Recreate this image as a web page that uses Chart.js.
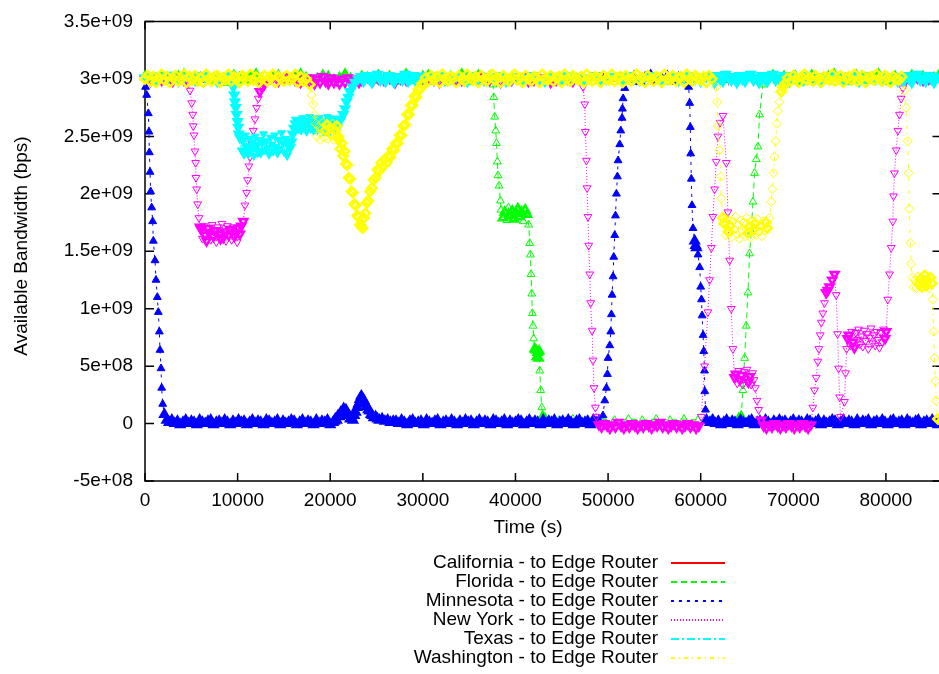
<!DOCTYPE html>
<html>
<head>
<meta charset="utf-8">
<title>Available Bandwidth</title>
<script src="https://cdn.jsdelivr.net/npm/chart.js@4.4.1/dist/chart.umd.min.js"></script>
<style>
    html, body { margin: 0; padding: 0; background: #fff; overflow: hidden; }
    #wrap { width: 939px; height: 674px; overflow: hidden; }
</style>
</head>
<body>
<div id="wrap"><canvas id="bandwidthChart" width="947" height="674"></canvas></div>
<script>
// Tick values and labels
const xTickValues = [0, 10000, 20000, 30000, 40000, 50000, 60000, 70000, 80000];
const yTickValues = [-5e8, 0, 5e8, 1e9, 1.5e9, 2e9, 2.5e9, 3e9, 3.5e9];
const yTickLabels = ['-5e+08', '0', '5e+08', '1e+09', '1.5e+09', '2e+09', '2.5e+09', '3e+09', '3.5e+09'];

const seriesNames = [
    'California - to Edge Router',
    'Florida - to Edge Router',
    'Minnesota - to Edge Router',
    'New York - to Edge Router',
    'Texas - to Edge Router',
    'Washington - to Edge Router'
];

// [time (s), bandwidth in 1e9 bps]
const californiaData = [
    [0,3.01],[900,2.98],[1800,3.02],[2700,3.00],[3600,2.97],[4500,3.03],[5400,3.01],[6300,2.99],[7200,3.02],[8100,2.98],
    [9000,3.00],[9900,3.03],[10800,2.99],[11700,3.01],[12600,2.97],[13500,3.02],[14400,3.00],[15300,2.98],[16200,3.03],[17100,3.01],
    [18000,2.99],[18900,3.02],[19800,2.97],[20700,3.00],[21600,3.03],[22500,2.98],[23400,3.01],[24300,3.02],[25200,2.99],[26100,3.00],
    [27000,3.03],[27900,2.98],[28800,3.01],[29700,2.97],[30600,3.02],[31500,3.00],[32400,2.99],[33300,3.03],[34200,3.01],[35100,2.98],
    [36000,3.02],[36900,3.00],[37800,2.97],[38700,3.01],[39600,3.03],[40500,2.99],[41400,3.02],[42300,2.98],[43200,3.00],[44100,3.03],
    [45000,3.01],[45900,2.97],[46800,3.02],[47700,2.99],[48600,3.01],[49500,3.03],[50400,2.98],[51300,3.00],[52200,3.02],[53100,2.97],
    [54000,3.01],[54900,3.03],[55800,2.99],[56700,3.00],[57600,3.02],[58500,2.98],[59400,3.01],[60300,3.03],[61200,2.99],[62100,3.02],
    [63000,2.97],[63900,3.00],[64800,3.03],[65700,3.01],[66600,2.98],[67500,3.02],[68400,3.00],[69300,2.99],[70200,3.03],[71100,3.01],
    [72000,2.97],[72900,3.02],[73800,3.00],[74700,2.98],[75600,3.03],[76500,3.01],[77400,2.99],[78300,3.02],[79200,3.00],[80100,2.97],
    [81000,3.01],[81900,3.03],[82800,2.99],[83700,3.02],[84600,2.98],[85500,3.00],[86400,3.01]
];

const floridaData = [
    [0,3.02],[600,3.00],[1200,2.98],[1800,3.03],[2400,3.01],[3000,2.99],[3600,3.02],[4200,3.04],[4800,3.00],[5400,2.98],
    [6000,3.01],[6600,3.03],[7200,2.99],[7800,3.02],[8400,3.00],[9000,2.97],[9600,3.03],[10200,3.01],[10800,2.99],[11400,3.02],
    [12000,3.04],[12600,3.00],[13200,2.98],[13800,3.01],[14400,3.03],[15000,3.00],[15600,2.99],[16200,3.02],[16800,3.04],[17400,3.01],
    [18000,2.98],[18600,3.00],[19200,3.03],[19800,3.02],[20400,2.99],[21000,3.01],[21600,3.04],[22200,3.00],[22800,2.98],[23400,3.02],
    [24000,3.01],[24600,2.99],[25200,3.03],[25800,3.00],[26400,3.02],[27000,2.98],[27600,3.01],[28200,3.04],[28800,2.99],[29400,3.00],
    [30000,3.02],[30600,3.03],[31200,2.98],[31800,3.01],[32400,3.00],[33000,3.02],[33600,2.99],[34200,3.04],[34800,3.01],[35400,2.98],
    [36000,3.03],[36600,3.00],[37200,3.02],
    [37580,2.95],[37660,2.84],[37760,2.67],[37870,2.55],[37950,2.44],[38050,2.28],[38120,2.16],[38230,2.07],[38380,1.94],
    [38450,1.86],[38650,1.79],[38850,1.84],[39050,1.77],[39250,1.88],[39450,1.81],[39650,1.85],[39850,1.78],[40050,1.83],[40250,1.87],
    [40450,1.80],[40650,1.84],[40850,1.76],[41050,1.86],[41250,1.82],
    [41430,1.73],[41540,1.57],[41610,1.47],[41680,1.30],[41760,1.13],[41830,0.96],[41900,0.85],[41970,0.74],[42080,0.65],
    [42200,0.64],[42300,0.58],[42400,0.62],[42500,0.57],[42560,0.63],
    [42620,0.46],[42730,0.29],[42840,0.14],[42940,0.06],
    [43200,0.04],[44700,0.03],[46200,0.04],[47700,0.03],[49200,0.04],[50700,0.03],[52200,0.04],[53700,0.03],[55200,0.04],[56700,0.03],
    [58200,0.04],[59700,0.03],[61200,0.04],[62700,0.03],[64100,0.04],
    [64380,0.06],[64560,0.29],[64740,0.57],[64920,0.85],[65100,1.14],[65280,1.48],[65460,1.67],[65640,1.93],[65820,2.18],[66000,2.30],
    [66180,2.41],[66360,2.69],[66710,2.95],
    [67200,3.01],[67800,3.03],[68400,2.99],[69000,3.02],[69600,3.00],[70200,3.04],[70800,2.98],[71400,3.01],[72000,3.03],[72600,3.00],
    [73200,2.99],[73800,3.02],[74400,3.04],[75000,3.01],[75600,2.98],[76200,3.00],[76800,3.03],[77400,3.02],[78000,2.99],[78600,3.01],
    [79200,3.04],[79800,3.00],[80400,2.98],[81000,3.02],[81600,3.01],[82200,2.99],[82800,3.03],[83400,3.00],[84000,3.02],[84600,2.98],
    [85200,3.01],[85800,3.04],[86400,3.00]
];

const minnesotaData = [
    [60,2.93],[180,2.86],[360,2.70],[430,2.54],[470,2.36],[540,2.19],[610,2.02],[720,1.88],[830,1.76],[900,1.59],
    [1080,1.42],[1190,1.25],[1330,1.10],[1440,0.97],[1550,0.80],[1620,0.64],[1730,0.48],[1800,0.31],[1910,0.17],[2090,0.08],[2340,0.03],
    [2600,0.01],[2900,0.03],[3200,0.00],[3500,0.02],[3800,-0.01],[4100,0.01],[4400,0.03],[4700,0.00],[5000,0.02],[5300,0.01],
    [5600,-0.01],[5900,0.03],[6200,0.01],[6500,0.00],[6800,0.02],[7100,0.03],[7400,-0.01],[7700,0.01],[8000,0.02],[8300,0.00],
    [8600,0.03],[8900,0.01],[9200,-0.01],[9500,0.02],[9800,0.00],[10100,0.03],[10400,0.01],[10700,0.02],[11000,-0.01],[11300,0.01],
    [11600,0.03],[11900,0.00],[12200,0.02],[12500,0.01],[12800,-0.01],[13100,0.03],[13400,0.02],[13700,0.00],[14000,0.01],[14300,0.03],
    [14600,-0.01],[14900,0.02],[15200,0.00],[15500,0.01],[15800,0.03],[16100,0.02],[16400,-0.01],[16700,0.01],[17000,0.03],[17300,0.00],
    [17600,0.02],[17900,0.01],[18200,-0.01],[18500,0.03],[18800,0.00],[19100,0.02],[19400,0.01],[19700,0.03],[20000,-0.01],[20300,0.01],
    [20450,0.02],[20550,0.04],[20700,0.03],[20850,0.07],[21000,0.06],[21150,0.10],[21300,0.09],[21450,0.13],[21550,0.11],[21700,0.12],
    [21850,0.08],[22000,0.07],[22150,0.04],[22300,0.05],[22450,0.03],[22600,0.07],[22750,0.10],[22900,0.14],[23050,0.17],[23200,0.21],
    [23350,0.24],[23500,0.22],[23650,0.20],[23800,0.17],[23950,0.15],[24100,0.12],[24250,0.11],[24400,0.08],[24550,0.07],[24700,0.05],
    [24900,0.06],[25100,0.04],[25300,0.03],[25600,0.04],[25900,0.02],[26200,0.03],[26500,0.01],[26800,0.02],
    [27100,0.02],[27400,0.00],[27700,0.03],[28000,0.01],[28300,-0.01],[28600,0.02],[28900,0.03],[29200,0.00],[29500,0.01],[29800,0.02],
    [30100,-0.01],[30400,0.03],[30700,0.01],[31000,0.00],[31300,0.02],[31600,0.03],[31900,-0.01],[32200,0.01],[32500,0.02],[32800,0.00],
    [33100,0.03],[33400,0.01],[33700,-0.01],[34000,0.02],[34300,0.00],[34600,0.03],[34900,0.01],[35200,0.02],[35500,-0.01],[35800,0.01],
    [36100,0.03],[36400,0.00],[36700,0.02],[37000,0.01],[37300,-0.01],[37600,0.03],[37900,0.02],[38200,0.00],[38500,0.01],[38800,0.03],
    [39100,-0.01],[39400,0.02],[39700,0.00],[40000,0.01],[40300,0.03],[40600,0.02],[40900,-0.01],[41200,0.01],[41500,0.03],[41800,0.00],
    [42100,0.02],[42400,0.01],[42700,-0.01],[43000,0.03],[43300,0.00],[43600,0.02],[43900,0.01],[44200,0.03],[44500,-0.01],[44800,0.01],
    [45100,0.02],[45400,0.00],[45700,0.03],[46000,0.01],[46300,-0.01],[46600,0.02],[46900,0.03],[47200,0.00],[47500,0.01],[47800,0.02],
    [48100,-0.01],[48400,0.03],[48700,0.01],[49000,0.02],
    [49450,0.07],[49640,0.20],[49820,0.31],[49930,0.43],[50000,0.57],[50180,0.68],[50290,0.80],[50360,0.95],[50430,1.12],[50540,1.28],
    [50610,1.45],[50720,1.64],[50800,1.81],[50900,2.00],[51010,2.15],[51080,2.29],[51260,2.43],[51370,2.55],[51510,2.66],[51550,2.74],
    [51620,2.83],[51800,2.92],
    [52200,3.00],[52800,3.02],[53400,2.98],[54000,3.01],[54600,3.03],[55200,2.99],[55800,3.00],[56400,3.02],[57000,2.98],[57600,3.01],[58200,3.00],
    [58700,2.93],[58810,2.79],[58880,2.58],[58920,2.35],[58990,2.13],[59060,1.90],[59170,1.70],[59350,1.59],[59450,1.55],[59540,1.53],
    [59710,1.47],[59890,1.36],[60000,1.19],[60080,1.08],[60150,0.94],[60260,0.77],[60330,0.63],[60410,0.46],[60440,0.28],[60520,0.12],[60630,0.03],
    [61000,0.01],[61300,0.03],[61600,0.00],[61900,0.02],[62200,-0.01],[62500,0.01],[62800,0.03],[63100,0.00],[63400,0.02],[63700,0.01],
    [64000,-0.01],[64300,0.03],[64600,0.01],[64900,0.00],[65200,0.02],[65500,0.03],[65800,-0.01],[66100,0.01],[66400,0.02],[66700,0.00],
    [67000,0.03],[67300,0.01],[67600,-0.01],[67900,0.02],[68200,0.00],[68500,0.03],[68800,0.01],[69100,0.02],[69400,-0.01],[69700,0.01],
    [70000,0.03],[70300,0.00],[70600,0.02],[70900,0.01],[71200,-0.01],[71500,0.03],[71800,0.02],[72100,0.00],[72400,0.01],[72700,0.03],
    [73000,-0.01],[73300,0.02],[73600,0.00],[73900,0.01],[74200,0.03],[74500,0.02],[74800,-0.01],[75100,0.01],[75400,0.03],[75700,0.00],
    [76000,0.02],[76300,0.01],[76600,-0.01],[76900,0.03],[77200,0.00],[77500,0.02],[77800,0.01],[78100,0.03],[78400,-0.01],[78700,0.01],
    [79000,0.02],[79300,0.00],[79600,0.03],[79900,0.01],[80200,-0.01],[80500,0.02],[80800,0.03],[81100,0.00],[81400,0.01],[81700,0.02],
    [82000,-0.01],[82300,0.03],[82600,0.01],[82900,0.00],[83200,0.02],[83500,0.03],[83800,-0.01],[84100,0.01],[84400,0.02],[84700,0.00],
    [85000,0.03],[85300,0.01],[85600,-0.01],[85900,0.02],[86200,0.01]
];

const newYorkData = [
    [0,3.00],[600,2.98],[1200,3.01],[1800,2.99],[2400,3.02],[3000,2.98],[3600,3.00],[4200,2.99],[4600,2.97],
    [4860,2.90],[5040,2.79],[5150,2.69],[5210,2.59],[5290,2.51],[5400,2.37],[5470,2.27],[5500,2.14],[5580,2.04],[5690,1.91],[5830,1.79],[5940,1.71],
    [6050,1.69],[6200,1.61],[6350,1.72],[6500,1.64],[6650,1.59],[6800,1.70],[6950,1.66],[7100,1.60],[7250,1.73],[7400,1.63],
    [7550,1.68],[7700,1.58],[7850,1.71],[8000,1.65],[8150,1.61],[8300,1.74],[8450,1.62],[8600,1.67],[8750,1.59],[8900,1.72],
    [9050,1.64],[9200,1.69],[9350,1.60],[9500,1.71],[9650,1.63],[9800,1.66],[9950,1.58],[10100,1.70],[10250,1.65],[10400,1.72],
    [10610,1.76],[10790,1.90],[10970,2.01],[11080,2.12],[11220,2.24],[11330,2.32],[11510,2.44],[11690,2.55],[11870,2.65],[12050,2.75],
    [12230,2.83],[12410,2.89],[12590,2.93],[12870,2.95],
    [13200,2.99],[13800,3.01],[14400,2.98],[15000,3.00],[15600,3.02],[16200,2.99],[16800,2.97],[17400,3.01],
    [17700,2.98],[18000,3.01],[18300,2.96],[18600,3.00],[18900,2.97],[19200,3.02],[19500,2.98],[19800,2.96],[20100,3.01],[20400,2.97],
    [20700,2.99],[21000,2.96],[21300,3.00],[21600,2.97],[21900,3.01],[22200,2.98],[22500,2.96],[22800,3.00],[23100,2.97],
    [23400,2.99],[24000,3.02],[24600,2.98],[25200,3.00],[25800,2.99],[26400,3.01],[27000,2.97],[27600,3.00],[28200,2.99],[28800,3.02],
    [29400,2.98],[30000,3.00],[30600,3.01],[31200,2.99],[31800,2.97],[32400,3.00],[33000,3.02],[33600,2.98],[34200,2.99],[34800,3.01],
    [35400,3.00],[36000,2.98],[36600,3.02],[37200,2.99],[37800,3.00],[38400,2.97],[39000,3.01],[39600,2.99],[40200,3.00],[40800,3.02],
    [41400,2.98],[42000,2.99],[42600,3.01],[43200,3.00],[43800,2.97],[44400,2.99],[45000,3.02],[45600,3.00],[46200,2.98],[46800,3.00],
    [47300,2.93],[47480,2.78],[47550,2.54],[47660,2.29],[47730,2.05],[47830,1.80],[47910,1.55],[48020,1.30],[48120,1.05],[48270,0.81],
    [48370,0.55],[48480,0.31],[48630,0.14],[48740,0.06],
    [49000,-0.01],[49300,-0.03],[49600,0.00],[49900,-0.02],[50200,-0.04],[50500,-0.01],[50800,-0.03],[51100,0.01],[51400,-0.02],[51700,-0.04],
    [52000,-0.01],[52300,-0.03],[52600,0.00],[52900,-0.02],[53200,-0.04],[53500,-0.01],[53800,-0.03],[54100,0.00],[54400,-0.02],[54700,-0.04],
    [55000,-0.01],[55300,-0.02],[55600,0.01],[55900,-0.03],[56200,-0.01],[56500,-0.04],[56800,-0.02],[57100,0.00],[57400,-0.03],[57700,-0.01],
    [58000,-0.04],[58300,-0.02],[58600,0.00],[58900,-0.03],[59200,-0.01],[59500,-0.04],[59800,-0.02],
    [60070,0.06],[60420,0.50],[60780,0.97],[60960,1.25],[61150,1.53],[61320,1.80],[61500,2.04],[61680,2.28],[61860,2.50],[62100,2.62],[62400,2.68],
    [62770,2.27],[62940,1.84],[63120,1.42],[63300,1.00],[63480,0.65],[63660,0.40],
    [63800,0.43],[63950,0.35],[64100,0.46],[64250,0.38],[64400,0.42],[64550,0.34],[64700,0.45],[64850,0.39],[65000,0.47],[65150,0.36],
    [65300,0.41],[65450,0.34],[65600,0.44],[65750,0.38],
    [65900,0.31],[66080,0.20],[66260,0.12],[66540,0.03],
    [66800,-0.02],[67100,-0.04],[67400,-0.01],[67700,-0.03],[68000,0.00],[68300,-0.02],[68600,-0.04],[68900,-0.01],[69200,-0.03],[69500,0.00],
    [69800,-0.02],[70100,-0.04],[70400,-0.01],[70700,-0.03],[71000,0.00],[71300,-0.02],[71600,-0.04],[71900,-0.01],
    [72110,0.14],[72290,0.29],[72470,0.40],[72650,0.54],[72760,0.65],[72910,0.77],[73020,0.88],[73190,0.96],[73370,1.05],[73550,1.14],
    [73730,1.16],[73910,1.19],[74200,1.25],[74450,1.30],
    [74630,1.12],[74780,0.78],[74890,0.48],[75000,0.23],[75100,0.06],
    [75530,0.19],[75640,0.44],[75750,0.65],[75860,0.74],
    [76000,0.77],[76150,0.68],[76300,0.80],[76450,0.71],[76600,0.66],[76750,0.79],[76900,0.73],[77050,0.82],[77200,0.69],[77350,0.76],
    [77500,0.67],[77650,0.81],[77800,0.72],[77950,0.78],[78100,0.65],[78250,0.75],[78400,0.83],[78550,0.70],[78700,0.77],[78850,0.68],
    [79000,0.80],[79150,0.73],[79300,0.66],[79450,0.79],[79600,0.71],[79750,0.82],[79900,0.74],
    [80030,0.80],[80200,1.08],[80390,1.30],[80570,1.53],[80740,1.76],[80820,1.98],[80920,2.18],[81110,2.38],[81290,2.55],[81460,2.69],
    [81650,2.83],[81820,2.92],
    [82200,3.00],[82800,2.98],[83400,3.01],[84000,2.99],[84600,3.00],[85200,2.98],[85800,3.01],[86400,2.99]
];

const texasData = [
    [0,3.01],[600,3.03],[1200,2.99],[1800,3.02],[2400,3.00],[3000,3.04],[3600,2.98],[4200,3.01],[4800,3.02],[5400,2.99],
    [6000,3.03],[6600,3.00],[7200,3.02],[7800,2.98],[8400,3.01],[9000,3.03],
    [9400,2.97],[9530,2.93],[9640,2.86],[9710,2.80],[9790,2.75],[9890,2.69],[10000,2.63],[10070,2.58],[10140,2.52],
    [10250,2.49],[10400,2.38],[10550,2.46],[10700,2.34],[10850,2.51],[11000,2.41],[11150,2.36],[11300,2.48],[11450,2.39],[11600,2.45],
    [11750,2.33],[11900,2.50],[12050,2.42],[12200,2.37],[12350,2.47],[12500,2.35],[12650,2.44],[12800,2.52],[12950,2.38],[13100,2.46],
    [13250,2.40],[13400,2.34],[13550,2.49],[13700,2.43],[13850,2.37],[14000,2.51],[14150,2.41],[14300,2.35],[14450,2.47],[14600,2.39],
    [14750,2.53],[14900,2.44],[15050,2.36],[15200,2.48],[15350,2.33],[15500,2.45],[15650,2.40],
    [15800,2.45],[15950,2.52],[16100,2.57],[16250,2.61],
    [16400,2.64],[16550,2.56],[16700,2.62],[16850,2.55],[17000,2.66],[17150,2.59],[17300,2.63],[17450,2.54],[17600,2.61],[17750,2.67],
    [17900,2.58],[18050,2.63],[18200,2.55],[18350,2.65],[18500,2.60],[18650,2.57],[18800,2.66],[18950,2.59],[19100,2.62],[19250,2.54],
    [19400,2.64],[19550,2.58],[19700,2.67],[19850,2.60],[20000,2.56],[20150,2.63],[20300,2.59],[20450,2.65],[20600,2.61],[20750,2.57],[20900,2.64],
    [21100,2.64],[21400,2.69],[21600,2.74],[21760,2.80],[21950,2.84],[22120,2.89],[22400,2.93],[22660,2.97],[23010,3.00],
    [23300,3.02],[23600,2.98],[23900,3.03],[24200,3.00],[24500,2.97],[24800,3.02],[25100,3.04],[25400,2.99],[25700,3.01],[26000,2.98],
    [26300,3.03],[26600,3.00],[26900,2.97],[27200,3.02],[27500,3.01],[27800,2.99],[28100,3.04],[28400,2.98],[28700,3.00],[29000,3.03],
    [29300,2.97],[29600,3.01],[29900,3.02],[30200,2.99],[30500,3.03],
    [31200,3.01],[31800,3.03],[32400,2.99],[33000,3.00],[33600,3.02],[34200,3.01],[34800,2.98],[35400,3.03],[36000,3.00],[36600,2.99],
    [37200,3.02],[37800,3.01],[38400,3.03],[39000,2.98],[39600,3.00],[40200,3.02],[40800,2.99],[41400,3.01],[42000,3.03],[42600,3.00],
    [43200,2.98],[43800,3.02],[44400,3.01],[45000,2.99],[45600,3.03],[46200,3.00],[46800,3.02],[47400,2.98],[48000,3.01],[48600,3.03],
    [49200,2.99],[49800,3.00],[50400,3.02],[51000,3.01],[51600,2.98],[52200,3.03],[52800,3.00],[53400,2.99],[54000,3.02],[54600,3.01],
    [55200,3.03],[55800,2.98],[56400,3.00],[57000,3.02],[57600,2.99],[58200,3.01],[58800,3.03],[59400,3.00],[60000,2.98],[60600,3.02],
    [61200,3.01],[61500,2.97],[61800,3.03],[62100,3.00],[62400,2.98],[62700,3.04],[63000,3.01],[63300,2.99],[63600,3.02],[63900,2.97],
    [64200,3.03],[64500,3.00],[64800,2.98],[65100,3.02],[65400,3.04],[65700,2.99],[66000,3.01],[66300,2.97],[66600,3.03],[66900,3.00],
    [67200,2.98],[67500,3.02],[67800,3.04],[68100,2.99],[68400,3.01],[68700,2.97],[69000,3.03],[69300,3.00],[69600,2.98],[69900,3.02],
    [70500,3.01],[71100,2.99],[71700,3.03],[72300,3.00],[72900,2.98],[73500,3.02],[74100,3.01],[74700,3.03],[75300,2.99],[75900,3.00],
    [76500,3.02],[77100,2.98],[77700,3.01],[78300,3.03],[78900,3.00],[79500,2.99],[80100,3.02],[80700,3.01],[81300,2.98],
    [81600,3.02],[81900,2.98],[82200,3.03],[82500,3.00],[82800,2.97],[83100,3.02],[83400,3.04],[83700,2.99],[84000,3.01],[84300,2.98],
    [84600,3.03],[84900,3.00],[85200,2.97],[85500,3.02],[85800,3.01],[86100,2.99],[86400,3.03]
];

const washingtonData = [
    [0,3.00],[300,3.03],[600,2.98],[900,3.02],[1200,2.97],[1500,3.01],[1800,3.04],[2100,2.99],[2400,3.02],[2700,2.97],
    [3000,3.01],[3300,3.03],[3600,2.98],[3900,3.00],[4200,3.04],[4500,2.97],[4800,3.02],[5100,2.99],[5400,3.03],[5700,2.98],
    [6000,3.01],[6300,2.97],[6600,3.04],[6900,3.00],[7200,2.98],[7500,3.02],[7800,3.03],[8100,2.97],[8400,3.01],[8700,2.99],
    [9000,3.04],[9300,2.98],[9600,3.02],[9900,3.00],[10200,2.97],[10500,3.03],[10800,3.01],[11100,2.98],[11400,3.04],[11700,2.99],
    [12000,3.02],[12300,2.97],[12600,3.00],[12900,3.03],[13200,2.98],[13500,3.01],[13800,3.04],[14100,2.97],[14400,3.02],[14700,3.00],
    [15000,2.98],[15300,3.03],[15600,2.99],[15900,3.01],[16200,3.04],[16500,2.97],[16800,3.02],[17100,2.98],[17400,3.00],
    [17800,2.95],[17990,2.86],[18160,2.78],[18340,2.69],
    [18450,2.61],[18600,2.50],[18750,2.58],[18900,2.47],[19050,2.56],[19200,2.62],[19350,2.49],[19500,2.55],[19650,2.60],[19800,2.48],
    [19950,2.57],[20100,2.52],[20250,2.61],[20400,2.47],[20550,2.55],[20700,2.59],[20850,2.50],
    [20950,2.47],[21100,2.39],[21250,2.44],[21400,2.33],[21550,2.37],[21700,2.26],[21850,2.25],[22000,2.14],[22150,2.13],[22300,2.02],
    [22450,2.01],[22600,1.91],[22750,1.90],[22900,1.81],[23050,1.80],[23200,1.73],[23350,1.72],[23500,1.70],
    [23650,1.79],[23800,1.83],[23950,1.92],[24100,1.94],[24300,2.02],[24500,2.05],[24700,2.12],[24900,2.14],[25100,2.21],[25300,2.20],
    [25500,2.27],[25700,2.24],[25900,2.30],[26100,2.27],[26300,2.33],[26500,2.32],[26700,2.39],[26900,2.38],[27100,2.44],[27300,2.44],
    [27500,2.51],[27700,2.51],[27900,2.59],[28100,2.60],[28300,2.69],[28500,2.69],[28700,2.77],[28900,2.77],[29100,2.85],[29300,2.84],
    [29500,2.91],[29700,2.91],[29900,2.96],[30100,2.95],
    [30300,3.01],[30600,2.98],[30900,3.03],[31200,2.99],[31500,3.02],[31800,2.97],[32100,3.04],[32400,3.00],[32700,2.98],[33000,3.02],
    [33300,3.01],[33600,2.97],[33900,3.03],[34200,3.00],[34500,2.98],[34800,3.04],[35100,3.01],[35400,2.99],[35700,3.02],[36000,2.97],
    [36300,3.03],[36600,3.00],[36900,2.98],[37200,3.02],[37500,3.04],[37800,2.99],[38100,3.01],[38400,2.97],[38700,3.03],[39000,3.00],
    [39300,2.98],[39600,3.02],[39900,3.04],[40200,2.99],[40500,3.01],[40800,2.97],[41100,3.03],[41400,3.00],[41700,2.98],[42000,3.02],
    [42300,3.01],[42600,2.97],[42900,3.04],[43200,3.00],[43500,2.99],[43800,3.03],[44100,2.98],[44400,3.01],[44700,3.02],[45000,2.97],
    [45300,3.04],[45600,3.00],[45900,2.98],[46200,3.03],[46500,3.01],[46800,2.99],[47100,3.02],[47400,2.97],[47700,3.04],[48000,3.00],
    [48300,2.98],[48600,3.02],[48900,3.01],[49200,2.97],[49500,3.03],[49800,3.00],[50100,2.99],[50400,3.04],[50700,2.98],[51000,3.01],
    [51300,3.02],[51600,2.97],[51900,3.03],[52200,3.00],[52500,2.98],[52800,3.02],[53100,3.04],[53400,2.99],[53700,3.01],[54000,2.97],
    [54300,3.03],[54600,3.00],[54900,2.98],[55200,3.02],[55500,3.01],[55800,2.97],[56100,3.04],[56400,3.00],[56700,2.99],[57000,3.03],
    [57300,2.98],[57600,3.01],[57900,3.02],[58200,2.97],[58500,3.04],[58800,3.00],[59100,2.98],[59400,3.03],[59700,3.01],[60000,2.99],
    [60300,3.02],[60600,2.97],[60900,3.03],[61200,3.00],
    [61690,2.93],[61800,2.80],[61860,2.59],[62040,2.38],[62150,2.15],[62230,1.96],[62400,1.79],
    [62550,1.74],[62700,1.64],[62850,1.78],[63000,1.67],[63150,1.72],[63300,1.62],[63450,1.76],[63600,1.69],[63750,1.80],[63900,1.65],
    [64050,1.73],[64200,1.61],[64350,1.77],[64500,1.68],[64650,1.75],[64800,1.63],[64950,1.79],[65100,1.66],[65250,1.71],[65400,1.62],
    [65550,1.77],[65700,1.69],[65850,1.74],[66000,1.64],[66150,1.78],[66300,1.67],[66450,1.73],[66600,1.63],[66750,1.76],[66900,1.68],
    [67050,1.75],[67200,1.70],
    [67440,1.79],[67620,1.93],[67730,2.04],[67870,2.18],[67980,2.32],[68090,2.46],[68230,2.61],[68340,2.72],[68520,2.80],[68700,2.89],
    [68870,2.93],[69100,2.96],
    [69400,3.01],[69700,2.98],[70000,3.03],[70300,3.00],[70600,2.97],[70900,3.02],[71200,3.04],[71500,2.99],[71800,3.01],[72100,2.98],
    [72400,3.03],[72700,3.00],[73000,2.97],[73300,3.02],[73600,3.01],[73900,2.99],[74200,3.04],[74500,2.98],[74800,3.00],[75100,3.03],
    [75400,2.97],[75700,3.01],[76000,3.02],[76300,2.99],[76600,3.04],[76900,2.98],[77200,3.00],[77500,3.03],[77800,2.97],[78100,3.01],
    [78400,3.02],[78700,2.99],[79000,3.04],[79300,3.00],[79600,2.98],[79900,3.03],[80200,3.01],[80500,2.97],[80800,3.02],[81100,3.00],
    [81400,2.99],[81700,3.02],
    [82000,2.90],[82180,2.75],[82360,2.46],[82460,2.18],[82530,1.87],[82640,1.57],[82720,1.39],
    [82850,1.27],[83000,1.19],[83150,1.25],[83300,1.18],[83450,1.28],[83600,1.21],[83750,1.26],[83900,1.19],[84050,1.24],[84200,1.29],
    [84350,1.20],[84500,1.25],[84650,1.18],[84800,1.27],[84950,1.22],
    [85060,1.08],[85170,0.80],[85240,0.57],[85350,0.37],[85420,0.20],[85600,0.04],[86000,0.02]
];

// gnuplot-like styles for each series
const seriesStyles = [
    { color: '#ff0000', dash: [],           point: 'cross',    rotation: 0,   filled: false, radius: 3 },
    { color: '#00ff00', dash: [6, 4],       point: 'triangle', rotation: 0,   filled: false, radius: 4.5 },
    { color: '#0000ff', dash: [3, 5],       point: 'triangle', rotation: 0,   filled: true,  radius: 4.5 },
    { color: '#ff00ff', dash: [1, 2],       point: 'triangle', rotation: 180, filled: false, radius: 4.5 },
    { color: '#00ffff', dash: [8, 3, 2, 3], point: 'triangle', rotation: 180, filled: true,  radius: 4.5 },
    { color: '#ffff00', dash: [4, 4, 1, 4], point: 'rectRot',  rotation: 0,   filled: false, radius: 4.5 }
];

const seriesData = [californiaData, floridaData, minnesotaData, newYorkData, texasData, washingtonData];

const FONT = '"Liberation Sans", Arial, Helvetica, sans-serif';

// markers that pile up on their neighbours get a heavier outline so the
// crowded stretches read as the solid bands of the original plot
function markerOutline(ctx) {
    const pts = ctx.dataset.data;
    const i = ctx.dataIndex;
    const xs = ctx.chart.scales.x;
    const ys = ctx.chart.scales.y;
    if (!xs || !ys || !pts[i]) return 1;
    const x0 = xs.getPixelForValue(pts[i].x);
    const y0 = ys.getPixelForValue(pts[i].y);
    let nearest = Infinity;
    [i - 1, i + 1].forEach(j => {
        if (pts[j]) {
            const d = Math.hypot(xs.getPixelForValue(pts[j].x) - x0, ys.getPixelForValue(pts[j].y) - y0);
            nearest = Math.min(nearest, d);
        }
    });
    return nearest < 7 ? 2.6 : 1;
}

// frame, inward ticks, axis titles and the key
const gnuplotDecor = {
    id: 'gnuplotDecor',
    beforeDatasetsDraw(chart) {
        const { ctx, chartArea: a, scales: { x, y } } = chart;
        ctx.save();
        ctx.strokeStyle = '#000';
        ctx.lineWidth = 1.5;
        ctx.strokeRect(a.left, a.top, a.right - a.left, a.bottom - a.top);
        ctx.beginPath();
        xTickValues.forEach(v => {
            const px = x.getPixelForValue(v);
            ctx.moveTo(px, a.bottom); ctx.lineTo(px, a.bottom - 8);
            ctx.moveTo(px, a.top); ctx.lineTo(px, a.top + 8);
        });
        yTickValues.forEach(v => {
            const py = y.getPixelForValue(v);
            ctx.moveTo(a.left, py); ctx.lineTo(a.left + 9, py);
            ctx.moveTo(a.right, py); ctx.lineTo(a.right - 9, py);
        });
        ctx.stroke();
        ctx.restore();
    },
    afterDraw(chart) {
        const ctx = chart.ctx;
        ctx.save();
        ctx.fillStyle = '#000';
        ctx.font = '19px ' + FONT;
        ctx.textBaseline = 'middle';

        // axis titles
        ctx.textAlign = 'center';
        ctx.fillText('Time (s)', 528, 528);
        ctx.save();
        ctx.translate(22, 246);
        ctx.rotate(-Math.PI / 2);
        ctx.fillText('Available Bandwidth (bps)', 0, 0);
        ctx.restore();

        // key below the plot
        ctx.textAlign = 'right';
        seriesNames.forEach((name, i) => {
            const rowY = 563 + i * 19;
            const st = seriesStyles[i];
            ctx.fillText(name, 658, rowY);
            ctx.beginPath();
            ctx.strokeStyle = st.color;
            ctx.lineWidth = 2;
            ctx.setLineDash(st.dash);
            ctx.moveTo(671, rowY);
            ctx.lineTo(725, rowY);
            ctx.stroke();
            ctx.setLineDash([]);
        });
        ctx.restore();
    }
};

function buildDatasets() {
    return seriesNames.map((name, i) => {
        const st = seriesStyles[i];
        return {
            label: name,
            data: seriesData[i].map(([t, v]) => ({ x: t, y: v * 1e9 })),
            borderColor: st.color,
            borderWidth: 1,
            borderDash: st.dash,
            pointStyle: st.point,
            pointRotation: st.rotation,
            pointRadius: st.radius,
            pointBorderWidth: markerOutline,
            pointBorderColor: st.color,
            pointBackgroundColor: st.filled ? st.color : 'rgba(0,0,0,0)',
            tension: 0,
            clip: false,
            order: seriesNames.length - i   // last series is drawn on top, like gnuplot
        };
    });
}

document.addEventListener('DOMContentLoaded', function() {
    const ctx = document.querySelector('#bandwidthChart').getContext('2d');
    new Chart(ctx, {
        type: 'line',
        data: { datasets: buildDatasets() },
        options: {
            responsive: false,
            animation: false,
            devicePixelRatio: 1,
            events: [],
            layout: { padding: { left: 0, top: 10, right: 5, bottom: 163 } },
            plugins: { legend: { display: false }, tooltip: { enabled: false } },
            scales: {
                x: {
                    type: 'linear',
                    min: 0,
                    max: 86000,
                    grid: { display: false, drawTicks: false },
                    border: { display: false },
                    afterBuildTicks: s => { s.ticks = xTickValues.map(v => ({ value: v })); },
                    afterFit: s => { s.height = 30; },
                    ticks: {
                        padding: 8,
                        color: '#000',
                        maxRotation: 0,
                        autoSkip: false,
                        font: { family: FONT, size: 19, lineHeight: 1.2 },
                        callback: v => String(v)
                    }
                },
                y: {
                    type: 'linear',
                    min: -5e8,
                    max: 3.5e9,
                    grid: { display: false, drawTicks: false },
                    border: { display: false },
                    afterBuildTicks: s => { s.ticks = yTickValues.map(v => ({ value: v })); },
                    afterFit: s => { s.width = 145; },
                    ticks: {
                        padding: 12,
                        color: '#000',
                        autoSkip: false,
                        font: { family: FONT, size: 19, lineHeight: 1 },
                        callback: v => yTickLabels[yTickValues.indexOf(v)]
                    }
                }
            }
        },
        plugins: [gnuplotDecor]
    });
});
</script>
</body>
</html>
